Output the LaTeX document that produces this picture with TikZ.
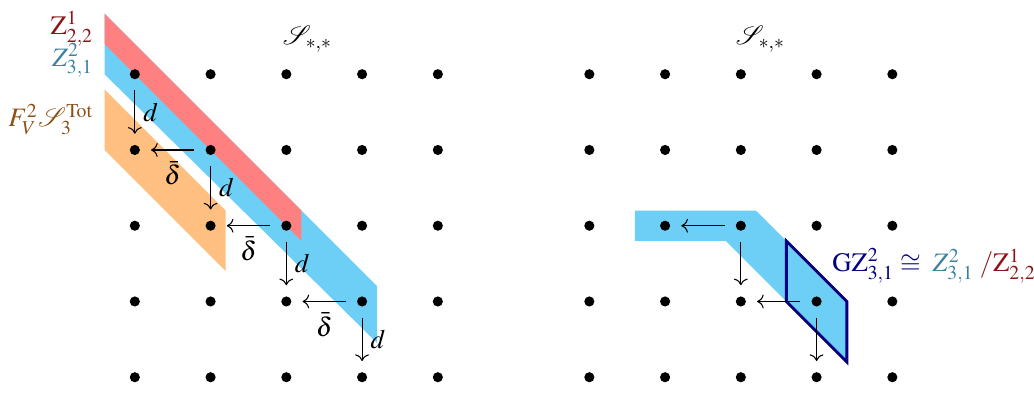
\documentclass[tikz,border=0pt]{standalone}
\usepackage{mathptmx}
\usepackage{mathrsfs}
\usepackage[no-math]{fontspec}
\setmainfont{Liberation Serif}
\usepackage{tikz}
\usetikzlibrary{arrows.meta}
\definecolor{bandred}{RGB}{255,128,128}
\definecolor{bandcyan}{RGB}{109,207,246}
\definecolor{bandorange}{RGB}{255,191,128}
\definecolor{zonered}{RGB}{140,20,25}
\definecolor{zoneteal}{RGB}{60,130,160}
\definecolor{zonebrown}{RGB}{140,80,20}
\definecolor{quotnavy}{RGB}{0,0,128}
\tikzset{
  dot/.style={circle, fill=black, inner sep=0pt, minimum size=3.8pt},
  diff/.style={->, line width=0.4pt, shorten <=4pt, shorten >=4pt},
  dlbl/.style={right, inner sep=3pt},
  hlbl/.style={below, inner sep=4pt},
  zone/.style={anchor=east, inner sep=0pt, text=#1},
  title/.style={inner sep=0pt},
}

\begin{document}
\begin{tikzpicture}
  \useasboundingbox (-1.78,-0.2) rectangle (11.87,4.98);
  % bands on the left page
  \fill[bandcyan] (-0.4,4.8) -- (3.2,1.2) -- (3.2,0.45) -- (-0.4,4.0) -- cycle;
  \fill[bandred] (-0.4,4.8) -- (2.2,2.2) -- (2.2,1.8) -- (-0.4,4.4) -- cycle;
  \fill[bandorange] (-0.4,3.8) -- (1.2,2.2) -- (1.2,1.4) -- (-0.4,3.0) -- cycle;
  % band and quotient on the right page
  \fill[bandcyan] (6.6,2.2) -- (8.2,2.2) -- (9.4,1.0) -- (9.4,0.2) -- (7.8,1.8) -- (6.6,1.8) -- cycle;
  \draw[quotnavy, line width=1.1pt, fill=bandcyan] (8.6,1.8) -- (9.4,1.0) -- (9.4,0.2) -- (8.6,1.0) -- cycle;
  % the two grids
  \foreach \i in {0,...,4}
    \foreach \j in {0,...,4} {
      \node[dot] (l\i\j) at (\i,\j) {};
      \node[dot] (r\i\j) at (\i+6,\j) {};
    }
  \node[title] (ltitle) at (2.28,4.46) {$\mathscr{S}_{*,*}$};
  \node[title] (rtitle) at (8.26,4.46) {$\mathscr{S}_{*,*}$};
  % zone labels
  \node[zone=zonered] (zred) at (-0.54,4.6) {$\mathrm{Z}^1_{2,2}$};
  \node[zone=zoneteal] (zteal) at (-0.54,4.18) {$Z^2_{3,1}$};
  \node[zone=zonebrown] (zfilt) at (-0.54,3.4) {$F_V^2\mathscr{S}_3^{\mathrm{Tot}}$};
  % differentials, left
  \draw[diff] (l04) -- node[dlbl] {$d$} (l03);
  \draw[diff] (l13) -- node[hlbl] {$\bar{\delta}$} (l03);
  \draw[diff] (l13) -- node[dlbl] {$d$} (l12);
  \draw[diff] (l22) -- node[hlbl] {$\bar{\delta}$} (l12);
  \draw[diff] (l22) -- node[dlbl] {$d$} (l21);
  \draw[diff] (l31) -- node[hlbl] {$\bar{\delta}$} (l21);
  \draw[diff] (l31) -- node[dlbl] {$d$} (l30);
  % differentials, right
  \draw[diff] (r22) -- (r12);
  \draw[diff] (r22) -- (r21);
  \draw[diff] (r31) -- (r21);
  \draw[diff] (r31) -- (r30);
  \node[anchor=west, inner sep=0pt, text=quotnavy] (quot) at (9.2,1.47)
    {$\mathrm{GZ}^2_{3,1}\cong\;{\color{zoneteal}Z^2_{3,1}}\;{\color{zonered}/\mathrm{Z}^1_{2,2}}$};
\end{tikzpicture}
\end{document}
